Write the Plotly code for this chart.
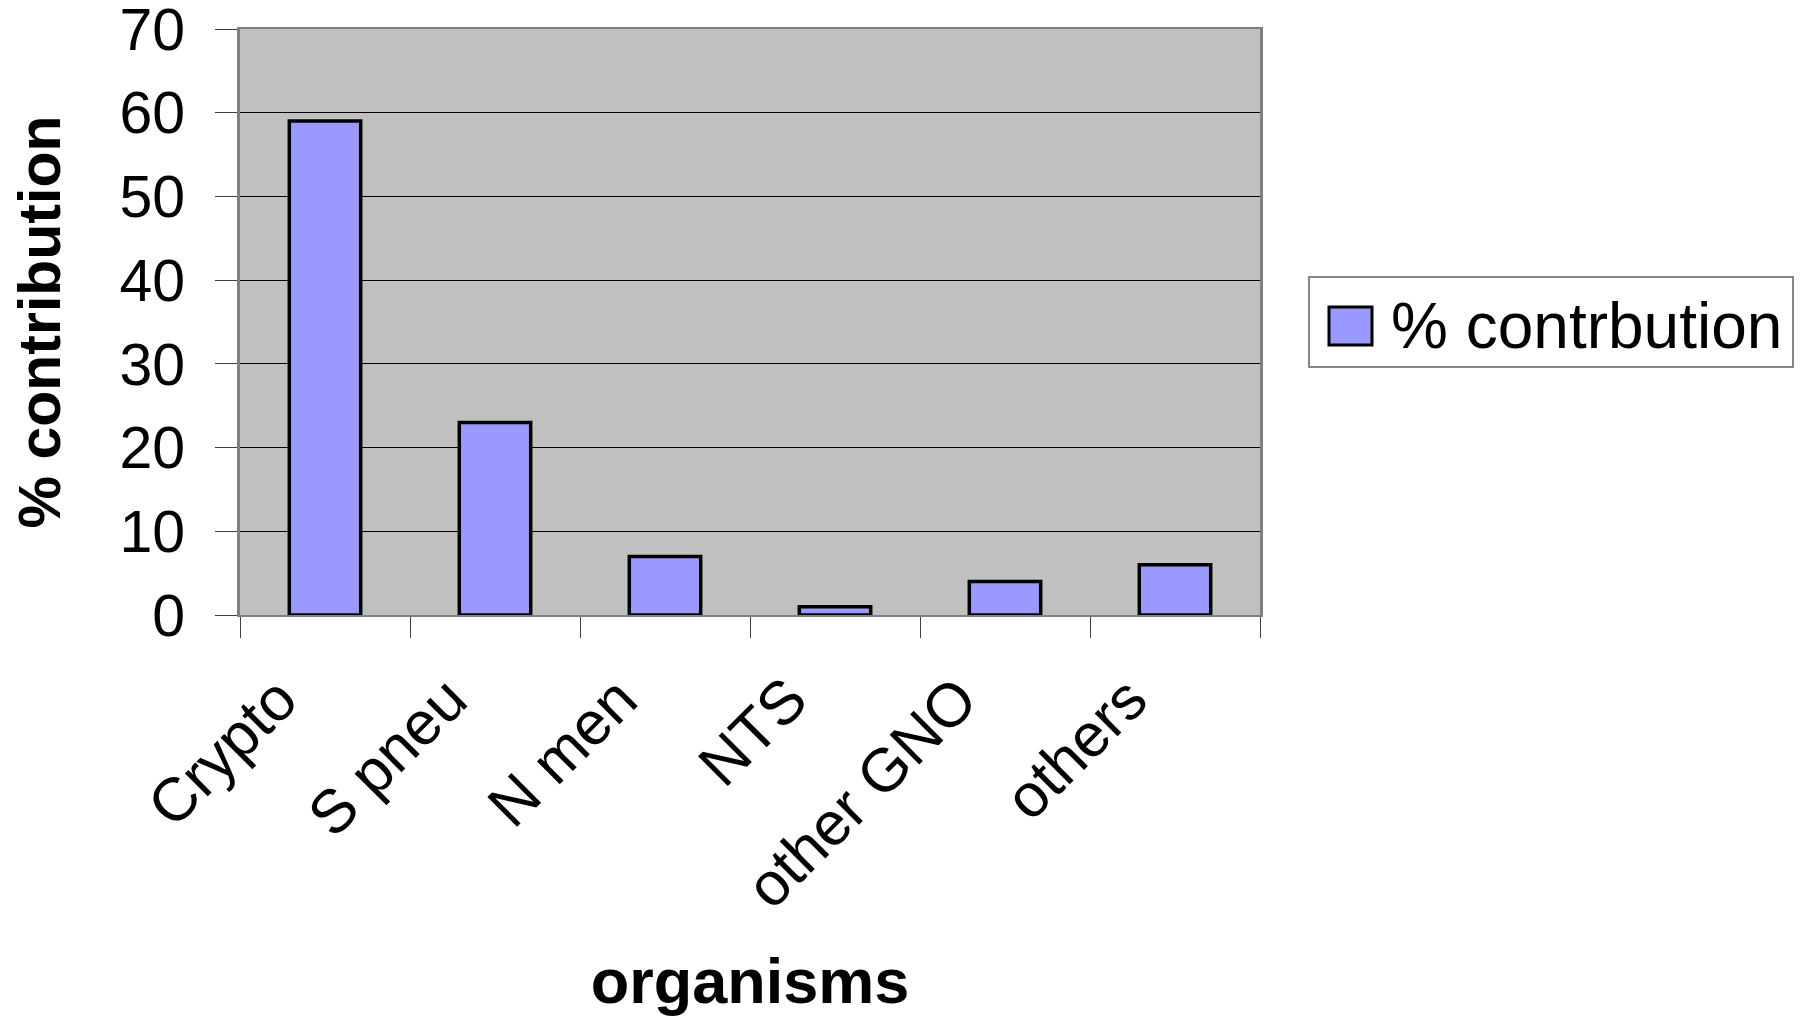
import plotly.graph_objects as go

# Share of cases by organism
organisms = ["Crypto", "S pneu", "N men", "NTS", "other GNO", "others"]
contribution = [59, 23, 7, 1, 4, 6]
series_name = "% contrbution"
y_ticks = [0, 10, 20, 30, 40, 50, 60, 70]

W, H = 1800, 1016
M_L, M_R, M_T, M_B = 240, 540, 29, 401
FONT = "Liberation Sans, Arial, sans-serif"
BAR_FILL = "#9999FF"

plot_w = W - M_L - M_R
plot_h = H - M_T - M_B


def px_x(px):
    return (px - M_L) / plot_w


def px_y(py):
    return (H - M_B - py) / plot_h


fig = go.Figure()
fig.add_trace(go.Bar(
    x=organisms,
    y=contribution,
    name=series_name,
    marker=dict(color=BAR_FILL, line=dict(color="black", width=3.5)),
    showlegend=False,
))

fig.update_layout(
    width=W,
    height=H,
    margin=dict(l=M_L, r=M_R, t=M_T, b=M_B, autoexpand=False),
    paper_bgcolor="white",
    plot_bgcolor="#C0C0C0",
    bargap=0.58,
    font=dict(family=FONT, color="black"),
    showlegend=False,
)

fig.update_xaxes(
    type="category",
    automargin=False,
    tickangle=-45,
    tickfont=dict(size=61, family=FONT, color="black"),
    ticks="outside",
    tickson="boundaries",
    ticklen=21,
    tickwidth=1,
    tickcolor="#404040",
    ticklabelshift=-46,
    ticklabelstandoff=22,
    showline=True,
    linecolor="#808080",
    linewidth=2,
    mirror=True,
    showgrid=False,
    title=dict(text="<b>organisms</b>", font=dict(size=63, family=FONT, color="black"), standoff=48),
)

fig.update_yaxes(
    automargin=False,
    range=[0, 70],
    tickvals=y_ticks,
    tickfont=dict(size=59, family=FONT, color="black"),
    ticks="outside",
    ticklen=22,
    tickwidth=1,
    tickcolor="#404040",
    ticklabelstandoff=18,
    ticklabeloverflow="allow",
    showline=True,
    linecolor="#808080",
    linewidth=3,
    mirror=True,
    showgrid=True,
    gridcolor="black",
    gridwidth=1,
    zeroline=False,
    title=dict(text="<b>% contribution</b>", font=dict(size=59, family=FONT, color="black"), standoff=40),
)

# Legend box drawn by hand so its swatch matches the large text
fig.add_shape(type="rect", xref="paper", yref="paper",
              x0=px_x(1309), x1=px_x(1793), y0=px_y(367), y1=px_y(277),
              fillcolor="white", line=dict(color="#606060", width=1.5))
fig.add_shape(type="rect", xref="paper", yref="paper",
              x0=px_x(1329), x1=px_x(1372), y0=px_y(345), y1=px_y(307),
              fillcolor=BAR_FILL, line=dict(color="black", width=3))
fig.add_annotation(xref="paper", yref="paper", x=px_x(1389), y=px_y(326),
                   xanchor="left", yanchor="middle", showarrow=False,
                   text=series_name, font=dict(size=64, family=FONT, color="black"))

fig.write_html("out.html")
